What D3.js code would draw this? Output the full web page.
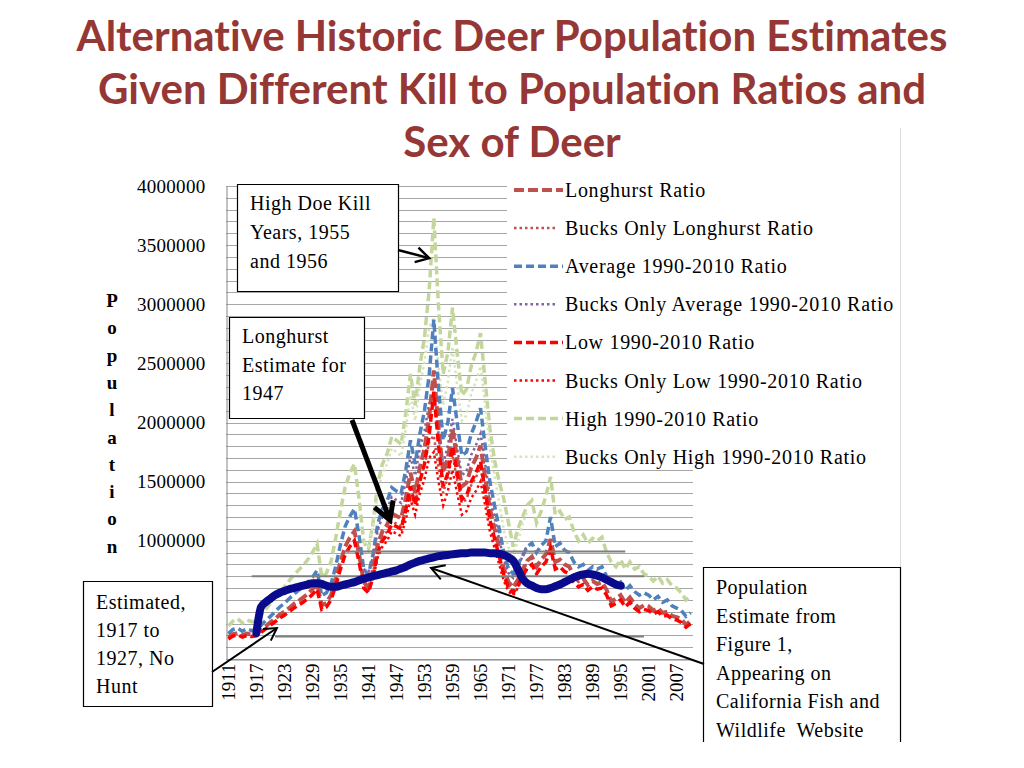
<!DOCTYPE html>
<html>
<head>
<meta charset="utf-8">
<script src="https://cdn.jsdelivr.net/npm/d3@7"></script>
<style>
  body { margin: 0; background: #fff; }
  svg { display: block; }
  text { font-family: "Liberation Serif", "Times New Roman", serif; fill: #000; }
</style>
</head>
<body>
<svg id="chart" width="1024" height="768"></svg>
<script>
const width = 1024, height = 768;

// categories
const years = d3.range(1911, 2011);
const tickYears = [1911, 1917, 1923, 1929, 1935, 1941, 1947, 1953, 1959, 1965,
  1971, 1977, 1983, 1989, 1995, 2001, 2007];
// 0 and 500000 sit behind the "Estimated" box in the original
const yTicks = [1000000, 1500000, 2000000, 2500000, 3000000, 3500000, 4000000];

// estimates in thousands of deer, one value per year 1911-2010
const longhurstRatio = [
  185, 210, 220, 200, 215, 205, 210, 245, 275, 310,
  340, 375, 400, 430, 465, 490, 520, 550, 590, 635,
  455, 475, 540, 670, 820, 950, 1025, 1080, 885, 650,
  605, 755, 970, 1080, 1135, 1230, 1210, 1190, 1360, 1575,
  1405, 1620, 1780, 2040, 2440, 1955, 1575, 1695, 1945, 1695,
  1460, 1490, 1620, 1695, 1805, 1535, 1275, 1100, 940, 765,
  650, 605, 670, 755, 830, 865, 780, 840, 885, 1015,
  820, 840, 800, 780, 700, 660, 680, 625, 660, 635,
  650, 585, 485, 510, 540, 475, 520, 465, 430, 455,
  445, 410, 430, 390, 400, 365, 355, 335, 290, 325];
const averageRatio = [
  215, 250, 260, 235, 255, 240, 250, 285, 325, 360,
  400, 440, 470, 510, 545, 580, 610, 650, 690, 750,
  535, 560, 635, 785, 965, 1120, 1205, 1270, 1040, 760,
  710, 890, 1145, 1270, 1335, 1450, 1420, 1400, 1600, 1850,
  1650, 1900, 2100, 2400, 2870, 2300, 1850, 2000, 2290, 2000,
  1720, 1750, 1900, 2000, 2120, 1800, 1500, 1300, 1100, 900,
  760, 720, 800, 870, 950, 980, 900, 960, 1000, 1200,
  950, 980, 920, 900, 820, 780, 800, 750, 780, 760,
  780, 700, 630, 620, 650, 580, 620, 570, 540, 560,
  540, 500, 530, 480, 500, 450, 430, 410, 360, 390];
const lowRatio = [
  170, 195, 205, 185, 200, 190, 195, 225, 255, 285,
  315, 345, 370, 400, 430, 455, 480, 510, 545, 590,
  420, 440, 500, 620, 760, 880, 950, 1000, 820, 600,
  560, 700, 900, 1000, 1050, 1140, 1120, 1100, 1260, 1460,
  1300, 1500, 1650, 1890, 2260, 1810, 1460, 1570, 1800, 1570,
  1350, 1380, 1500, 1570, 1670, 1420, 1180, 1020, 870, 710,
  600, 560, 620, 700, 770, 800, 720, 780, 820, 940,
  760, 780, 740, 720, 650, 610, 630, 580, 610, 590,
  600, 540, 450, 470, 500, 440, 480, 430, 400, 420,
  410, 380, 400, 360, 370, 340, 330, 310, 270, 300];
const highRatio = [
  280, 320, 340, 305, 330, 315, 320, 370, 420, 470,
  520, 570, 610, 660, 710, 750, 790, 840, 900, 975,
  695, 725, 825, 1025, 1255, 1450, 1570, 1650, 1355, 990,
  925, 1155, 1485, 1650, 1735, 1880, 1850, 1815, 2080, 2410,
  2145, 2475, 2720, 3120, 3730, 2985, 2410, 2590, 2970, 2590,
  2230, 2280, 2475, 2590, 2755, 2345, 1950, 1680, 1500, 1350,
  1150, 950, 1100, 1200, 1300, 1340, 1150, 1250, 1380, 1540,
  1220, 1250, 1180, 1200, 1080, 1000, 1050, 980, 1020, 1000,
  1030, 900, 820, 780, 840, 760, 820, 760, 780, 720,
  700, 660, 700, 640, 670, 620, 600, 560, 500, 530];

// bucks only series, thousands, 1940-1975
const bucksStart = 1940;
const bucksLonghurst = [650, 625, 735, 930, 1025, 1080, 1165, 1145, 1125, 1275,
  1460, 1320, 1510, 1640, 1835, 1890, 1620, 1405, 1535, 1730,
  1510, 1320, 1350, 1470, 1535, 1620, 1405, 1165, 1015, 865,
  715, 615, 585, 650, 745, 820];
const bucksAverage = [760, 735, 865, 1090, 1205, 1270, 1370, 1345, 1320, 1500,
  1715, 1550, 1780, 1930, 2160, 2220, 1905, 1650, 1805, 2030,
  1780, 1550, 1590, 1725, 1805, 1905, 1650, 1370, 1195, 1015,
  840, 725, 685, 760, 875, 965];
const bucksLow = [600, 580, 680, 860, 950, 1000, 1080, 1060, 1040, 1180,
  1350, 1220, 1400, 1520, 1700, 1750, 1500, 1300, 1420, 1600,
  1400, 1220, 1250, 1360, 1420, 1500, 1300, 1080, 940, 800,
  660, 570, 540, 600, 690, 760];
const bucksHigh = [990, 955, 1120, 1420, 1570, 1650, 1780, 1750, 1715, 1945,
  2230, 2015, 2310, 2510, 2805, 2890, 2475, 2145, 2345, 2640,
  2310, 2015, 2060, 2245, 2345, 2475, 2145, 1780, 1550, 1320,
  1090, 940, 890, 990, 1140, 1250];

// population estimate, thousands, 1917-1995
const figureStart = 1917;
const figureOne = [
  220, 440, 480, 510, 540, 560, 575, 590, 600, 610,
  620, 630, 640, 640, 635, 620, 610, 610, 620, 630,
  640, 650, 665, 680, 690, 700, 710, 720, 730, 740,
  750, 765, 780, 800, 815, 830, 840, 850, 860, 870,
  875, 880, 885, 890, 895, 895, 900, 900, 900, 900,
  895, 895, 890, 880, 860, 830, 760, 680, 640, 620,
  600, 590, 590, 600, 615, 630, 650, 670, 690, 705,
  715, 720, 715, 705, 690, 670, 650, 630, 620];

// grey reference lines pasted over the chart
const refLines = [
  { value: 910000, from: 1936, to: 1996 },
  { value: 700000, from: 1916, to: 2000 },
  { value: 190000, from: 1921, to: 2000 }
];

const titleLines = ["Alternative Historic Deer Population Estimates",
  "Given Different Kill to Population Ratios and", "Sex of Deer"];
const yTitle = "Population";

const series = [
  { name: "High 1990-2010 Ratio", values: highRatio, start: 1911, color: "#C3D69B", w: 3.5, dash: "8,4" },
  { name: "Bucks Only High 1990-2010 Ratio", values: bucksHigh, start: bucksStart, color: "#D7E4BD", w: 2.5, dash: "2.5,3" },
  { name: "Average 1990-2010 Ratio", values: averageRatio, start: 1911, color: "#4F81BD", w: 3.5, dash: "8,4" },
  { name: "Bucks Only Average 1990-2010 Ratio", values: bucksAverage, start: bucksStart, color: "#8064A2", w: 2.5, dash: "2.5,3" },
  { name: "Longhurst Ratio", values: longhurstRatio, start: 1911, color: "#C0504D", w: 4, dash: "10,4" },
  { name: "Bucks Only Longhurst Ratio", values: bucksLonghurst, start: bucksStart, color: "#C0504D", w: 2.5, dash: "2.5,3" },
  { name: "Low 1990-2010 Ratio", values: lowRatio, start: 1911, color: "#FF0000", w: 3.5, dash: "8,4" },
  { name: "Bucks Only Low 1990-2010 Ratio", values: bucksLow, start: bucksStart, color: "#FF0000", w: 2.5, dash: "2.5,3" }
];
const legendOrder = ["Longhurst Ratio", "Bucks Only Longhurst Ratio", "Average 1990-2010 Ratio",
  "Bucks Only Average 1990-2010 Ratio", "Low 1990-2010 Ratio", "Bucks Only Low 1990-2010 Ratio",
  "High 1990-2010 Ratio", "Bucks Only High 1990-2010 Ratio"];

const plot = { left: 226, right: 693, top: 186, bottom: 659 };

const x = d3.scaleBand().domain(years).range([plot.left, plot.right]);
const xYear = yr => x(years[0]) + x.bandwidth() / 2 + (yr - years[0]) * x.step();
const y = d3.scaleLinear().domain([0, 4000000]).range([plot.bottom, plot.top]);

const svg = d3.select("#chart");

// title
svg.append("g").selectAll("text").data(titleLines).join("text")
  .attr("x", 512).attr("y", (d, i) => 51 + i * 53)
  .attr("text-anchor", "middle")
  .style("font-family", "Lato, 'Open Sans', sans-serif")
  .style("font-weight", "bold").style("font-size", "42px")
  .style("font-variant-ligatures", "none")
  .style("fill", "#953735")
  .text(d => d);

// chart frame edge
svg.append("line").attr("x1", 900.5).attr("x2", 900.5).attr("y1", 128).attr("y2", 742)
  .attr("stroke", "#d9d9d9");

// gridlines every 100000
svg.append("g").selectAll("line").data(d3.range(0, 4000001, 100000)).join("line")
  .attr("x1", plot.left).attr("x2", plot.right)
  .attr("y1", d => Math.round(y(d)) + 0.5).attr("y2", d => Math.round(y(d)) + 0.5)
  .attr("stroke", "#a6a6a6");

// axes
const yAxis = svg.append("g").attr("transform", `translate(${plot.left + 0.5},0)`)
  .call(d3.axisLeft(y).tickValues(yTicks).tickSize(0).tickPadding(21).tickFormat(d3.format("d")));
yAxis.select(".domain").attr("stroke", "#868686");
yAxis.selectAll("text").style("font-size", "19px").style("letter-spacing", "0.3px")
  .style("font-family", "'Liberation Serif', serif");

const xAxis = svg.append("g").attr("transform", `translate(0,${plot.bottom + 0.5})`)
  .call(d3.axisBottom(x).tickValues(tickYears).tickSize(0).tickSizeOuter(0));
xAxis.select(".domain").attr("stroke", "#868686");
xAxis.selectAll("text")
  .attr("transform", "rotate(-90)")
  .attr("text-anchor", "end")
  .attr("x", -4).attr("y", 0).attr("dy", "0.35em")
  .style("font-size", "19px").style("font-family", "'Liberation Serif', serif");

// series
const line = d3.line().x(d => xYear(d.year)).y(d => y(d.value));
const toPoints = s => s.values.map((v, i) => ({ year: s.start + i, value: v * 1000 }));

svg.append("g").selectAll("path").data(series).join("path")
  .attr("d", s => line(toPoints(s)))
  .attr("fill", "none")
  .attr("stroke", s => s.color)
  .attr("stroke-width", s => s.w)
  .attr("stroke-dasharray", s => s.dash);

// reference lines
svg.append("g").selectAll("line").data(refLines).join("line")
  .attr("x1", d => xYear(d.from)).attr("x2", d => xYear(d.to))
  .attr("y1", d => y(d.value)).attr("y2", d => y(d.value))
  .attr("stroke", "#7f7f7f").attr("stroke-width", 2);

// figure 1 estimate
svg.append("path")
  .datum(figureOne.map((v, i) => ({ year: figureStart + i, value: v * 1000 })))
  .attr("d", line.curve(d3.curveMonotoneX))
  .attr("fill", "none").attr("stroke", "#0a0a8c")
  .attr("stroke-width", 8).attr("stroke-linecap", "round").attr("stroke-linejoin", "round");

// legend
const legend = svg.append("g");
legend.append("rect").attr("x", 507).attr("y", 172).attr("width", 391).attr("height", 298).attr("fill", "#fff");
const legendItems = legend.selectAll("g").data(legendOrder.map(n => series.find(s => s.name === n)))
  .join("g").attr("transform", (d, i) => `translate(0,${190 + i * 38.1})`);
legendItems.append("line")
  .attr("x1", 514).attr("x2", d => d.dash.startsWith("2") ? 557 : 563)
  .attr("stroke", d => d.color).attr("stroke-width", d => d.w)
  .attr("stroke-dasharray", d => d.dash);
legendItems.append("text").attr("x", 565).attr("dy", "0.35em")
  .style("font-size", "20px").style("letter-spacing", "0.7px")
  .text(d => d.name);

// y axis title, one letter per row
svg.append("g").selectAll("text").data(yTitle.split("")).join("text")
  .attr("x", 112).attr("y", (d, i) => 307 + i * 27.3)
  .attr("text-anchor", "middle")
  .style("font-size", "19px").style("font-weight", "bold")
  .text(d => d);

// annotation boxes
const boxes = [
  { x: 237, y: 184, w: 161, h: 107, tx: 250, base: 210, step: 29,
    lines: ["High Doe Kill", "Years, 1955", "and 1956"] },
  { x: 229, y: 317, w: 135, h: 101, tx: 242, base: 343, step: 28.5,
    lines: ["Longhurst", "Estimate for", "1947"] },
  { x: 83, y: 581, w: 129, h: 125, tx: 96, base: 609, step: 28,
    lines: ["Estimated,", "1917 to", "1927, No", "Hunt"] },
  { x: 703, y: 567, w: 197, h: 175, tx: 716, base: 594, step: 28.6, open: true,
    lines: ["Population", "Estimate from", "Figure 1,", "Appearing on", "California Fish and", "Wildlife  Website"] }
];

const arrows = [
  { from: [398, 250], tip: { year: 1954, value: 3390000 }, w: 2.5, head: 15 },
  { from: [352, 420], tip: { year: 1945.6, value: 1175000 }, w: 5, head: 20 },
  { from: [212, 672], tip: { year: 1921.4, value: 262000 }, w: 2, head: 14 },
  { from: [704, 664], tip: { year: 1954.4, value: 770000 }, w: 2, head: 15 }
];

const boxG = svg.append("g").selectAll("g").data(boxes).join("g");
boxG.append("path")
  .attr("d", b => b.open
    ? `M${b.x + 0.5},${b.y + b.h}V${b.y + 0.5}H${b.x + b.w + 0.5}V${b.y + b.h}`
    : `M${b.x + 0.5},${b.y + 0.5}h${b.w}v${b.h}h${-b.w}Z`)
  .attr("fill", "#fff").attr("stroke", "#000").attr("stroke-width", 1.2);
boxG.selectAll("text").data(b => b.lines.map((t, i) => ({ t, x: b.tx, y: b.base + i * b.step })))
  .join("text")
  .attr("x", d => d.x).attr("y", d => d.y)
  .style("font-size", "20px").style("letter-spacing", "0.5px")
  .style("white-space", "pre")
  .text(d => d.t);

const arrowG = svg.append("g").selectAll("g").data(arrows).join("g");
arrowG.append("line")
  .attr("x1", a => a.from[0]).attr("y1", a => a.from[1])
  .attr("x2", a => xYear(a.tip.year)).attr("y2", a => y(a.tip.value))
  .attr("stroke", "#000").attr("stroke-width", a => a.w);
arrowG.append("path")
  .attr("d", a => {
    const tx = xYear(a.tip.year), ty = y(a.tip.value);
    const ang = Math.atan2(ty - a.from[1], tx - a.from[0]);
    const spread = Math.PI / 6;
    const p1 = [tx - a.head * Math.cos(ang - spread), ty - a.head * Math.sin(ang - spread)];
    const p2 = [tx - a.head * Math.cos(ang + spread), ty - a.head * Math.sin(ang + spread)];
    return `M${p1}L${tx},${ty}L${p2}`;
  })
  .attr("fill", "none").attr("stroke", "#000").attr("stroke-width", a => a.w)
  .attr("stroke-linejoin", "miter");
</script>
</body>
</html>
